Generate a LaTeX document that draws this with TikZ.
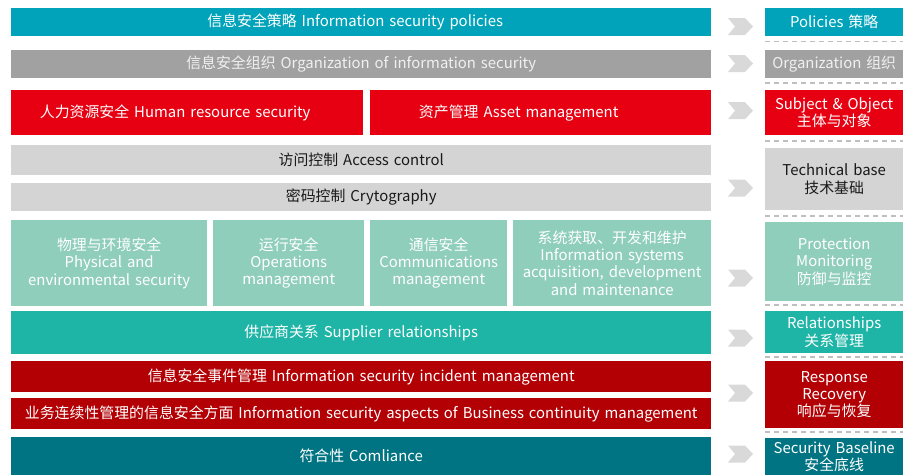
\documentclass[tikz,border=0pt]{standalone}
\usepackage{fontspec}
\setmainfont{Noto Sans CJK SC}
\definecolor{polblue}{HTML}{00A3BA}
\definecolor{orggray}{HTML}{A0A1A0}
\definecolor{hrred}{HTML}{E60012}
\definecolor{techgray}{HTML}{D4D4D4}
\definecolor{protgreen}{HTML}{8FCEBA}
\definecolor{relteal}{HTML}{1EB5A7}
\definecolor{respred}{HTML}{B20004}
\definecolor{basepetrol}{HTML}{007482}
\definecolor{chevgray}{HTML}{D9D9D9}
\definecolor{sepgray}{HTML}{BFBFBF}
\tikzset{
  box/.style 2 args={anchor=north west, inner sep=0pt, minimum width=#1pt,
    minimum height=#2pt, text width=#1pt, align=center, text=white,
    font=\fontsize{14.9}{17.2}\selectfont},
  sep/.style={sepgray, line width=1.3pt, dash pattern=on 5pt off 4pt}
}
\begin{document}
\begin{tikzpicture}[x=1pt,y=-1pt]
\useasboundingbox (0,0) rectangle (903,475);
% left column
\node[box={700}{28}, fill=polblue] (pol) at (11,8) {\hspace*{-12pt}信息安全策略 Information security policies};
\node[box={700}{28}, fill=orggray, text=white!94!black] (org) at (11,50) {信息安全组织 Organization of information security};
\node[box={352}{45}, fill=hrred] (hr) at (11,90) {\hspace*{-24pt}人力资源安全 Human resource security};
\node[box={341}{45}, fill=hrred] (asset) at (370,90) {\hspace*{-44pt}资产管理 Asset management};
\node[box={700}{30}, fill=techgray, text=black!90] (acc) at (11,145) {访问控制 Access control};
\node[box={700}{28}, fill=techgray, text=black!90] (cry) at (11,183) {密码控制 Crytography};
\node[box={196}{86}, fill=protgreen] (phys) at (11,220) {物理与环境安全\\Physical and\\environmental security};
\node[box={151}{86}, fill=protgreen] (ops) at (213,220) {运行安全\\Operations\\management};
\node[box={137}{86}, fill=protgreen] (comm) at (370,220) {通信安全\\Communications\\management};
\node[box={198}{86}, fill=protgreen] (sys) at (513,220) {系统获取、开发和维护\\Information systems\\acquisition, development\\and maintenance};
\node[box={700}{43}, fill=relteal] (sup) at (11,311) {供应商关系 Supplier relationships};
\node[box={700}{31}, fill=respred] (inc) at (11,361) {信息安全事件管理 Information security incident management};
\node[box={700}{31}, fill=respred] (bcm) at (11,398) {业务连续性管理的信息安全方面 Information security aspects of Business continuity management};
\node[box={700}{38}, fill=basepetrol] (comp) at (11,437) {符合性 Comliance};
% right column
\node[box={138}{28}, fill=polblue] (rpol) at (765,8) {Policies 策略};
\node[box={138}{28}, fill=orggray, text=white!94!black] (rorg) at (765,50) {Organization 组织};
\node[box={138}{45}, fill=hrred] (rsub) at (765,90) {Subject \& Object\\主体与对象};
\node[box={138}{62}, fill=techgray, text=black!90] (rtech) at (765,148) {Technical base\\技术基础};
\node[box={138}{79}, fill=protgreen] (rprot) at (765,222) {Protection\\Monitoring\\防御与监控};
\node[box={138}{42}, fill=relteal] (rrel) at (765,311) {Relationships\\关系管理};
\node[box={138}{67}, fill=respred] (rresp) at (765,361) {Response\\Recovery\\响应与恢复};
\node[box={138}{37}, fill=basepetrol] (rbase) at (765,438) {Security Baseline\\安全底线};
% dashed separators
\foreach \y in {41.7,83,141,216,305,357,432}
\draw[sep] (765,\y) -- (903,\y);
% chevrons
\foreach \c in {26.5,63.5,110.7,188,278,338,393,454}
\fill[chevgray, shift={(0,\c)}] (728,-8.5) -- (745,-8.5) -- (753,0) -- (745,8.5)
  -- (728,8.5) -- (735,0) -- cycle;
\end{tikzpicture}
\end{document}
